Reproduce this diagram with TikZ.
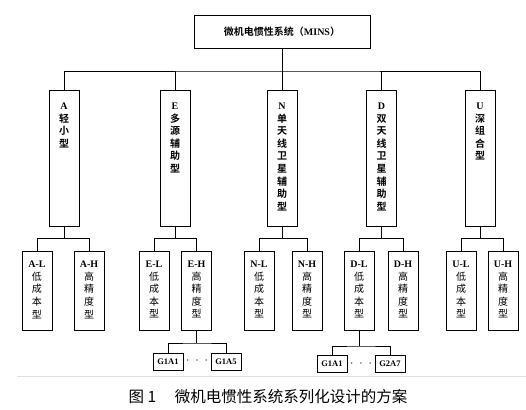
\documentclass[tikz,border=0pt]{standalone}
\usepackage{fontspec}
\setmainfont{Liberation Serif}
\newfontfamily\cjk{Noto Sans CJK SC}[BoldFont={Noto Sans CJK SC Bold}]
\usetikzlibrary{positioning}

\begin{document}
\begin{tikzpicture}[x=1pt,y=-1pt,
    line width=0.9pt,
    every node/.style={font=\bfseries\fontsize{10}{12.6}\selectfont},
    topbox/.style={draw, minimum width=176pt, minimum height=33pt},
    midbox/.style={draw, minimum width=30pt, minimum height=136pt, inner sep=0},
    lowbox/.style={draw, minimum width=30pt, minimum height=79pt, inner sep=0},
    gbox/.style={draw, minimum width=30pt, minimum height=17pt, inner sep=0,
      font=\bfseries\fontsize{8.5}{9}\selectfont},
    vtext/.style={align=center, inner sep=0},
    dots/.style={inner sep=0, font=\bfseries\fontsize{13}{13}\selectfont}
  ]
  \useasboundingbox (0,0) rectangle (526,409);

  % top
  \node[topbox] (mins) at (282,31.5) {{\cjk 微机电惯性系统（}MINS{\cjk ）}};

  % second level
  \node[midbox] (A) at (64,158) {};
  \node[midbox] (E) at (175,158) {};
  \node[midbox] (N) at (282,158) {};
  \node[midbox] (D) at (381.5,158) {};
  \node[midbox] (U) at (480,158) {};
  \node[vtext, below=13pt of A.north] (A_t) {A\\\cjk 轻\\\cjk 小\\\cjk 型};
  \node[vtext, below=13pt of E.north] (E_t) {E\\\cjk 多\\\cjk 源\\\cjk 辅\\\cjk 助\\\cjk 型};
  \node[vtext, below=13pt of N.north] (N_t) {N\\\cjk 单\\\cjk 天\\\cjk 线\\\cjk 卫\\\cjk 星\\\cjk 辅\\\cjk 助\\\cjk 型};
  \node[vtext, below=13pt of D.north] (D_t) {D\\\cjk 双\\\cjk 天\\\cjk 线\\\cjk 卫\\\cjk 星\\\cjk 辅\\\cjk 助\\\cjk 型};
  \node[vtext, below=13pt of U.north] (U_t) {U\\\cjk 深\\\cjk 组\\\cjk 合\\\cjk 型};

  % third level
  \foreach \n/\xl/\xh in {A/37/89, E/154/196.5, N/259/307, D/359/403, U/461/503} {
    \node[lowbox] (\n L) at (\xl,290.5) {};
    \node[lowbox] (\n H) at (\xh,290.5) {};
    \node[vtext, below=10pt of \n L.north] (\n L_t) {\n-L\\\cjk\mdseries 低\\\cjk\mdseries 成\\\cjk\mdseries 本\\\cjk\mdseries 型};
    \node[vtext, below=10pt of \n H.north] (\n H_t) {\n-H\\\cjk\mdseries 高\\\cjk\mdseries 精\\\cjk\mdseries 度\\\cjk\mdseries 型};
  }

  % fourth level
  \node[gbox] (EG1) at (168,361.5) {G1A1};
  \node[gbox] (EG5) at (226,361.5) {G1A5};
  \node[dots] (E_dots) at (197,361) {$\cdot\;\cdot\;\cdot$};
  \node[gbox] (DG1) at (332,364) {G1A1};
  \node[gbox] (DG7) at (390,364) {G2A7};
  \node[dots] (D_dots) at (361,363.5) {$\cdot\;\cdot\;\cdot$};

  % connectors
  \coordinate (bus) at (282,71);
  \draw (mins.south) -- (bus);
  \draw (A.north) |- (bus) -| (U.north);
  \foreach \n in {E,N,D} \draw (\n.north) -- (\n.north |- bus);
  \foreach \n in {A,E,N,D,U} {
    \draw (\n.south) -- ++(0,12) coordinate (\n_j);
    \draw (\n L.north) |- (\n_j) -| (\n H.north);
  }
  \coordinate (EH_j) at (197,343);
  \draw (EH.south) -- (EH.south |- EH_j);
  \draw (EG1.north) |- (EH_j) -| (EG5.north);
  \coordinate (DL_j) at (361,346);
  \draw (DL.south) -- (DL.south |- DL_j);
  \draw (DG1.north) |- (DL_j) -| (DG7.north);

  % caption
  \draw[gray!25, line width=0.6pt] (17,376) -- (526,376);
  \node[font=\fontsize{15.5}{17}\selectfont] (cap) at (268,397)
    {\cjk 图 1\hspace{1.2em}微机电惯性系统系列化设计的方案};
\end{tikzpicture}
\end{document}
